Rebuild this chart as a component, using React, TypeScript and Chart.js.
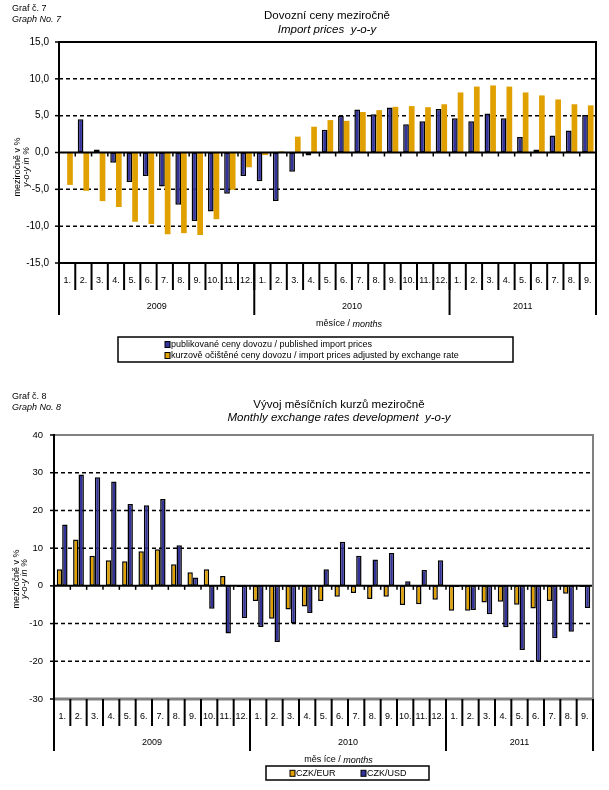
import React, { useEffect, useRef } from "react";
import { Chart, registerables } from "chart.js";

Chart.register(...registerables);

const FONT = "'Liberation Sans', Arial, sans-serif";

// ---------- data ----------
const monthLabels = [
  "1.", "2.", "3.", "4.", "5.", "6.", "7.", "8.", "9.", "10.", "11.", "12.",
  "1.", "2.", "3.", "4.", "5.", "6.", "7.", "8.", "9.", "10.", "11.", "12.",
  "1.", "2.", "3.", "4.", "5.", "6.", "7.", "8.", "9.",
];
const years = ["2009", "2010", "2011"];
const yearMonthCounts = [12, 12, 9];

const publishedImportPrices = [
  null, 4.5, 0.4, -1.4, -4.0, -3.2, -4.6, -7.1, -9.3, -8.0, -5.6, -3.2,
  -3.9, -6.6, -2.6, -0.4, 3.1, 5.0, 5.85, 5.2, 6.1, 3.85, 4.25, 5.9,
  4.65, 4.25, 5.3, 4.65, 2.1, 0.4, 2.3, 3.0, 5.1,
];
const adjustedImportPrices = [
  -4.4, -5.2, -6.6, -7.4, -9.4, -9.7, -11.1, -10.95, -11.2, -9.05, -5.05, -2.0,
  -0.35, 0.15, 2.15, 3.5, 4.4, 4.3, 5.5, 5.75, 6.2, 6.3, 6.15, 6.55,
  8.15, 8.95, 9.1, 8.95, 8.15, 7.75, 7.2, 6.55, 6.4,
];
const czkEur = [
  4.4, 12.3, 8.0, 6.8, 6.5, 9.2, 9.7, 5.7, 3.6, 4.4, 2.6, -0.3,
  -4.0, -8.75, -6.3, -5.5, -4.0, -2.9, -1.9, -3.5, -2.9, -5.1, -4.9, -3.7,
  -6.6, -6.6, -4.4, -4.2, -5.0, -6.0, -4.0, -2.1, -0.3,
];
const czkUsd = [
  16.3, 29.5, 28.8, 27.7, 21.7, 21.4, 23.0, 10.8, 2.2, -6.1, -12.6, -8.5,
  -10.9, -14.9, -10.0, -7.2, 4.4, 11.7, 8.0, 7.0, 8.7, 1.2, 4.2, 6.8,
  -0.3, -6.4, -7.5, -11.0, -17.0, -20.1, -13.9, -12.2, -5.9,
];

const importDashed = [10, 5, -5, -10];
const fxDashed = [30, 20, 10, -10, -20];

const NAVY = "#333399";
const ORANGE = "#E0A000";

type Part = { text: string; italic?: boolean };
type Deco = {
  graph: string;
  graphEn: string;
  graphY: [number, number];
  title: string;
  subtitle: string;
  titleX: number;
  titleY: [number, number];
  dashed: number[];
  frameTop: string;
  frameRight: string;
  frameBottom: string;
  frameBottomWidth: number;
  yLabelX: [number, number];
  yLabelY: number;
  xTitle: Part[];
  xTitleX: number;
  legendBox: [number, number, number, number];
  legendItems: { color: string; text: string; x: number; y: number }[];
};

function font(size: number, italic = false) {
  return `${italic ? "italic " : ""}${size}px ${FONT}`;
}

function drawParts(ctx: CanvasRenderingContext2D, parts: Part[], cx: number, y: number, size: number) {
  let total = 0;
  parts.forEach((p) => {
    ctx.font = font(size, p.italic);
    total += ctx.measureText(p.text).width;
  });
  let x = cx - total / 2;
  ctx.textAlign = "left";
  parts.forEach((p) => {
    ctx.font = font(size, p.italic);
    ctx.fillText(p.text, x, y);
    x += ctx.measureText(p.text).width;
  });
}

function makeDeco(cfg: Deco) {
  return {
    id: "deco",
    beforeDatasetsDraw(chart: any) {
      const { ctx, chartArea: a, scales } = chart;
      const y = scales.y;
      ctx.save();
      ctx.strokeStyle = "#000";
      ctx.lineWidth = 1.5;
      ctx.setLineDash([4, 3]);
      cfg.dashed.forEach((v) => {
        const py = y.getPixelForValue(v);
        ctx.beginPath();
        ctx.moveTo(a.left, py);
        ctx.lineTo(a.right, py);
        ctx.stroke();
      });
      ctx.restore();
    },
    afterDraw(chart: any) {
      const { ctx, chartArea: a, scales } = chart;
      const y = scales.y;
      const n = monthLabels.length;
      const cw = (a.right - a.left) / n;
      const zeroY = y.getPixelForValue(0);
      ctx.save();
      ctx.setLineDash([]);
      ctx.lineCap = "butt";

      // zero line
      ctx.strokeStyle = "#000";
      ctx.lineWidth = 2;
      ctx.beginPath();
      ctx.moveTo(a.left, zeroY);
      ctx.lineTo(a.right, zeroY);
      ctx.stroke();
      // small category ticks below zero line
      ctx.lineWidth = 1.5;
      for (let i = 1; i < n; i++) {
        const px = a.left + i * cw;
        ctx.beginPath();
        ctx.moveTo(px, zeroY);
        ctx.lineTo(px, zeroY + 4);
        ctx.stroke();
      }

      // frame
      ctx.lineWidth = 2;
      ctx.strokeStyle = cfg.frameTop;
      ctx.beginPath();
      ctx.moveTo(a.left, a.top);
      ctx.lineTo(a.right + 1, a.top);
      ctx.stroke();
      ctx.strokeStyle = cfg.frameRight;
      ctx.beginPath();
      ctx.moveTo(a.right, a.top);
      ctx.lineTo(a.right, a.bottom);
      ctx.stroke();
      ctx.strokeStyle = cfg.frameBottom;
      ctx.lineWidth = cfg.frameBottomWidth;
      ctx.beginPath();
      ctx.moveTo(a.left, a.bottom);
      ctx.lineTo(a.right + 1, a.bottom);
      ctx.stroke();
      ctx.strokeStyle = "#000";
      ctx.lineWidth = 2;
      ctx.beginPath();
      ctx.moveTo(a.left, a.top - 1);
      ctx.lineTo(a.left, a.bottom);
      ctx.stroke();

      // y tick marks
      ctx.lineWidth = 1.5;
      y.ticks.forEach((t: any) => {
        const py = y.getPixelForValue(t.value);
        ctx.beginPath();
        ctx.moveTo(a.left - 4, py);
        ctx.lineTo(a.left, py);
        ctx.stroke();
      });

      // category axis boxes
      ctx.lineWidth = 2;
      for (let i = 0; i <= n; i++) {
        const px = a.left + i * cw;
        ctx.beginPath();
        ctx.moveTo(px, a.bottom);
        ctx.lineTo(px, a.bottom + 27);
        ctx.stroke();
      }
      let acc = 0;
      const seps = [0];
      yearMonthCounts.forEach((c) => {
        acc += c;
        seps.push(acc);
      });
      seps.forEach((s) => {
        const px = a.left + s * cw;
        ctx.beginPath();
        ctx.moveTo(px, a.bottom);
        ctx.lineTo(px, a.bottom + 52);
        ctx.stroke();
      });

      ctx.fillStyle = "#000";
      ctx.textBaseline = "middle";
      ctx.textAlign = "center";
      ctx.font = font(9);
      monthLabels.forEach((m, i) => {
        ctx.fillText(m, a.left + (i + 0.5) * cw, a.bottom + 18);
      });
      years.forEach((yr, k) => {
        const cx = a.left + ((seps[k] + seps[k + 1]) / 2) * cw;
        ctx.fillText(yr, cx, a.bottom + 44);
      });
      drawParts(ctx, cfg.xTitle, cfg.xTitleX, a.bottom + 61, 9);

      // titles
      ctx.textAlign = "left";
      ctx.font = font(9);
      ctx.fillText(cfg.graph, 12, cfg.graphY[0]);
      ctx.font = font(9, true);
      ctx.fillText(cfg.graphEn, 12, cfg.graphY[1]);
      ctx.textAlign = "center";
      ctx.font = font(11.5);
      ctx.fillText(cfg.title, cfg.titleX, cfg.titleY[0]);
      ctx.font = font(11.5, true);
      ctx.fillText(cfg.subtitle, cfg.titleX, cfg.titleY[1]);

      // y axis title
      ctx.save();
      ctx.translate(cfg.yLabelX[0], cfg.yLabelY);
      ctx.rotate(-Math.PI / 2);
      ctx.font = font(9);
      ctx.fillText("meziročně v %", 0, 0);
      ctx.restore();
      ctx.save();
      ctx.translate(cfg.yLabelX[1], cfg.yLabelY);
      ctx.rotate(-Math.PI / 2);
      ctx.font = font(9, true);
      ctx.fillText("y-o-y in %", 0, 0);
      ctx.restore();

      // legend
      const [lx, ly, lw, lh] = cfg.legendBox;
      ctx.lineWidth = 1.5;
      ctx.strokeStyle = "#000";
      ctx.strokeRect(lx, ly, lw, lh);
      ctx.textAlign = "left";
      ctx.font = font(9);
      cfg.legendItems.forEach((it) => {
        ctx.fillStyle = it.color;
        ctx.fillRect(it.x, it.y - 3, 5, 6);
        ctx.strokeStyle = "#000";
        ctx.lineWidth = 1;
        ctx.strokeRect(it.x, it.y - 3, 5, 6);
        ctx.fillStyle = "#000";
        ctx.fillText(it.text, it.x + 6, it.y);
      });
      ctx.restore();
    },
  };
}

function importConfig(): any {
  const deco = makeDeco({
    graph: "Graf č. 7",
    graphEn: "Graph No. 7",
    graphY: [8.5, 19],
    title: "Dovozní ceny meziročně",
    subtitle: "Import prices  y-o-y",
    titleX: 327,
    titleY: [16, 29.5],
    dashed: importDashed,
    frameTop: "#000",
    frameRight: "#000",
    frameBottom: "#000",
    frameBottomWidth: 2,
    yLabelX: [17.5, 26],
    yLabelY: 167,
    xTitle: [{ text: "měsíce / " }, { text: "months", italic: true }],
    xTitleX: 349,
    legendBox: [118, 337, 395, 25],
    legendItems: [
      { color: NAVY, text: "publikované ceny dovozu / published import prices", x: 165, y: 344.5 },
      { color: ORANGE, text: "kurzově očištěné ceny dovozu / import prices adjusted by exchange rate", x: 165, y: 355.5 },
    ],
  });
  return {
    type: "bar",
    data: {
      labels: monthLabels,
      datasets: [
        {
          label: "publikované ceny dovozu / published import prices",
          data: publishedImportPrices,
          backgroundColor: NAVY,
          borderColor: "#000",
          borderWidth: 1.5,
          borderSkipped: false,
          categoryPercentage: 0.7,
          barPercentage: 1,
        },
        {
          label: "kurzově očištěné ceny dovozu / import prices adjusted by exchange rate",
          data: adjustedImportPrices,
          backgroundColor: ORANGE,
          borderWidth: 0,
          categoryPercentage: 0.7,
          barPercentage: 1,
        },
      ],
    },
    options: {
      animation: false,
      responsive: false,
      maintainAspectRatio: false,
      layout: { padding: { left: 0, right: 13, top: 42, bottom: 112 } },
      plugins: { legend: { display: false }, tooltip: { enabled: false } },
      scales: {
        x: { type: "category", display: false, offset: true, grid: { display: false } },
        y: {
          min: -15,
          max: 15,
          ticks: {
            stepSize: 5,
            color: "#000",
            padding: 10,
            font: { family: FONT, size: 10 },
            callback: (v: number) => v.toFixed(1).replace(".", ","),
          },
          grid: { display: false, drawTicks: false },
          border: { display: false },
          afterFit: (s: any) => {
            s.width = 59;
          },
        },
      },
    },
    plugins: [deco],
  };
}

function fxConfig(): any {
  const deco = makeDeco({
    graph: "Graf č. 8",
    graphEn: "Graph No. 8",
    graphY: [21.7, 32],
    title: "Vývoj měsíčních kurzů meziročně",
    subtitle: "Monthly exchange rates development  y-o-y",
    titleX: 339,
    titleY: [30, 42.5],
    dashed: fxDashed,
    frameTop: "#808080",
    frameRight: "#808080",
    frameBottom: "#808080",
    frameBottomWidth: 3,
    yLabelX: [16.5, 24.5],
    yLabelY: 204,
    xTitle: [{ text: "měs íce / " }, { text: "months", italic: true }],
    xTitleX: 338.5,
    legendBox: [266, 391, 163, 14],
    legendItems: [
      { color: ORANGE, text: "CZK/EUR", x: 290, y: 398.3 },
      { color: NAVY, text: "CZK/USD", x: 361, y: 398.3 },
    ],
  });
  return {
    type: "bar",
    data: {
      labels: monthLabels,
      datasets: [
        {
          label: "CZK/EUR",
          data: czkEur,
          backgroundColor: ORANGE,
          borderColor: "#000",
          borderWidth: 1.5,
          borderSkipped: false,
          categoryPercentage: 0.66,
          barPercentage: 1,
        },
        {
          label: "CZK/USD",
          data: czkUsd,
          backgroundColor: NAVY,
          borderColor: "#000",
          borderWidth: 1.5,
          borderSkipped: false,
          categoryPercentage: 0.66,
          barPercentage: 1,
        },
      ],
    },
    options: {
      animation: false,
      responsive: false,
      maintainAspectRatio: false,
      layout: { padding: { left: 0, right: 16, top: 60, bottom: 91 } },
      plugins: { legend: { display: false }, tooltip: { enabled: false } },
      scales: {
        x: { type: "category", display: false, offset: true, grid: { display: false } },
        y: {
          min: -30,
          max: 40,
          ticks: {
            stepSize: 10,
            color: "#000",
            padding: 11,
            font: { family: FONT, size: 9.5 },
          },
          grid: { display: false, drawTicks: false },
          border: { display: false },
          afterFit: (s: any) => {
            s.width = 54;
          },
        },
      },
    },
    plugins: [deco],
  };
}

function ChartCanvas({ make, top, height }: { make: () => any; top: number; height: number }) {
  const ref = useRef<HTMLCanvasElement>(null);
  useEffect(() => {
    const chart = new Chart(ref.current as HTMLCanvasElement, make());
    return () => chart.destroy();
  }, []);
  return (
    <canvas
      ref={ref}
      width={609}
      height={height}
      style={{ position: "absolute", left: 0, top, width: 609, height }}
    />
  );
}

export default function App() {
  return (
    <div style={{ position: "absolute", left: 0, top: 0, width: 609, height: 790, background: "#fff" }}>
      <ChartCanvas make={importConfig} top={0} height={375} />
      <ChartCanvas make={fxConfig} top={375} height={415} />
    </div>
  );
}
